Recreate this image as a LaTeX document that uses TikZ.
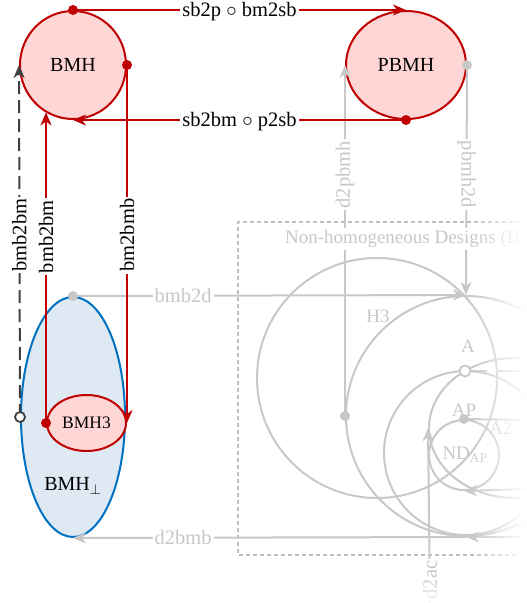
\documentclass[tikz,border=0pt]{standalone}
\usepackage{fontspec}
\setmainfont{Liberation Serif}
\usetikzlibrary{shapes.geometric,arrows.meta}
\definecolor{myred}{RGB}{192,0,0}
\definecolor{pinkfill}{RGB}{255,214,214}
\definecolor{myblue}{RGB}{0,112,192}
\definecolor{lblue}{RGB}{222,233,244}
\definecolor{lgray}{RGB}{200,200,200}
\definecolor{boxgray}{RGB}{190,190,190}
\definecolor{dgray}{RGB}{64,64,64}
\begin{document}
\begin{tikzpicture}[x=1pt,y=-1pt,
  redline/.style={draw=myred, line width=2pt},
  grayline/.style={draw=lgray, line width=2pt},
  darkline/.style={draw=dgray, line width=2pt, dash pattern=on 13pt off 6pt},
  tipr/.style={-{Stealth[length=13pt,width=11pt,inset=4pt]}},
  lbl/.style={fill=white, inner xsep=2pt, inner ysep=0.5pt, font=\fontsize{20.5}{24}\selectfont, text=black},
  glbl/.style={lbl, text=lgray},
  gtext/.style={inner sep=0pt, font=\fontsize{19}{22}\selectfont, text=lgray},
  rnode/.style={ellipse, draw=myred, fill=pinkfill, line width=2pt, inner sep=0pt, font=\fontsize{20}{23}\selectfont},
  gcirc/.style={circle, draw=lgray, line width=2pt, inner sep=0pt},
  boxline/.style={draw=boxgray, line width=1.5pt, dash pattern=on 4pt off 3pt},
]
\useasboundingbox (0,0) rectangle (527,603);

% main nodes
\node[ellipse, draw=myblue, fill=lblue, line width=2pt, minimum width=104pt, minimum height=240pt, inner sep=0pt] (BMHp) at (73,417) {};
\node[inner sep=0pt, font=\fontsize{20}{23}\selectfont] (BMHplbl) at (73,486) {BMH$_\perp$};
\node[rnode, minimum width=79pt, minimum height=56pt, font=\fontsize{17.5}{20}\selectfont] (BMH3) at (86.5,423) {BMH3};
\node[rnode, minimum width=106pt, minimum height=108pt] (BMH) at (73,65) {BMH};
\node[rnode, minimum width=120pt, minimum height=108pt] (PBMH) at (406,65) {PBMH};

% dashed box
\draw[boxline] (527,222) -- (238,222) -- (238,555) -- (527,555);

% gray circles
\node[gcirc, minimum size=240pt] (C1) at (377,378) {};
\node[gcirc, minimum size=240pt] (C2) at (466,416) {};
\node[gcirc, minimum size=164pt] (C3) at (466,453) {};
\node[ellipse, draw=lgray, line width=2pt, minimum width=172pt, minimum height=140pt, inner sep=0pt] (C4) at (515,428) {};
\node[gcirc, minimum size=70pt] (ND) at (464,455) {};
\node[gtext] (NDl) at (465,455) {ND\textsubscript{AP}};
\node[gtext] (H3l) at (378,316) {H3};
\node[gtext] (Al) at (468,346) {A};
\node[gtext] (APl) at (464,410) {AP};
\node[gtext] (A2l) at (501,428) {A2};

% gray connectors
\draw[grayline, tipr] (BMHp.north) -- node[glbl, pos=0.28]{bmb2d} (C2.north);
\draw[grayline, tipr] (C2.west) -- node[glbl, pos=0.687, rotate=90]{d2pbmh} (PBMH.west);
\draw[grayline, tipr] (PBMH.east) -- node[glbl, pos=0.476, rotate=-90]{pbmh2d} (C2.north);
\draw[grayline, tipr] (C2.south) -- node[glbl, pos=0.72]{d2bmb} (BMHp.south);
\coordinate (acS) at (430,603);
\draw[grayline, tipr] (acS) -- node[glbl, pos=0.131, rotate=90]{d2ac} (C4.west);
\node[circle, draw=lgray, fill=white, line width=1.8pt, minimum size=11pt, inner sep=0pt] (Aop) at (465,371) {};
\coordinate (rA1) at (487,371);
\coordinate (rA2) at (497,371);
\coordinate (rA3) at (527,371);
\draw[grayline] (Aop.east) -- (rA1);
\draw[grayline] (rA2) -- (rA3);
\coordinate (rAP) at (527,420);
\draw[grayline] (ND.north) -- (rAP);
\coordinate (rND) at (527,489);
\draw[grayline, tipr] (rND) -- (ND.south);
\coordinate (rC2) at (527,537);
\draw[grayline, tipr] (rC2) -- (C2.south);

% title of box
\node[anchor=west, fill=white, inner sep=2pt, font=\fontsize{19}{22}\selectfont, text=lgray] (title) at (283,239) {Non-homogeneous Designs (H)};

% red connectors
\draw[redline, tipr] (BMH.north) -- node[lbl, yshift=-2pt]{sb2p $\circ$ bm2sb} (PBMH.north);
\draw[redline, tipr] (PBMH.south) -- node[lbl, yshift=-2pt]{sb2bm $\circ$ p2sb} (BMH.south);
\draw[redline, tipr] (BMH.east) -- node[lbl, rotate=90, pos=0.475]{bm2bmb} (BMH3.east);
\coordinate (bmhIn) at (BMH3.west |- BMH.240);
\draw[redline, tipr] (BMH3.west) -- node[lbl, rotate=90, pos=0.6]{bmb2bm} (bmhIn);
\draw[darkline, tipr] (BMHp.west) -- node[lbl, rotate=90, pos=0.517]{bmb2bm} (BMH.west);

% dots
\fill[myred] (BMH.north) circle (5);
\fill[myred] (BMH.east) circle (5);
\fill[myred] (PBMH.south) circle (5);
\fill[myred] (BMH3.west) circle (5);
\fill[lgray] (BMHp.north) circle (5);
\fill[lgray] (PBMH.east) circle (5);
\fill[lgray] (C2.west) circle (5);
\fill[lgray] (ND.north) circle (5);
\draw[dgray, fill=white, line width=1.8pt] (BMHp.west) circle (5);

% fading at right and bottom
\foreach \i in {0,...,56} {
  \pgfmathsetmacro{\op}{\i/56}
  \fill[white, fill opacity=\op] (470+\i,215) rectangle (471.2+\i,603);
}
\foreach \j in {0,...,27} {
  \pgfmathsetmacro{\op}{0.9*\j/27}
  \fill[white, fill opacity=\op] (230,576+\j) rectangle (527,577.2+\j);
}
\end{tikzpicture}
\end{document}
